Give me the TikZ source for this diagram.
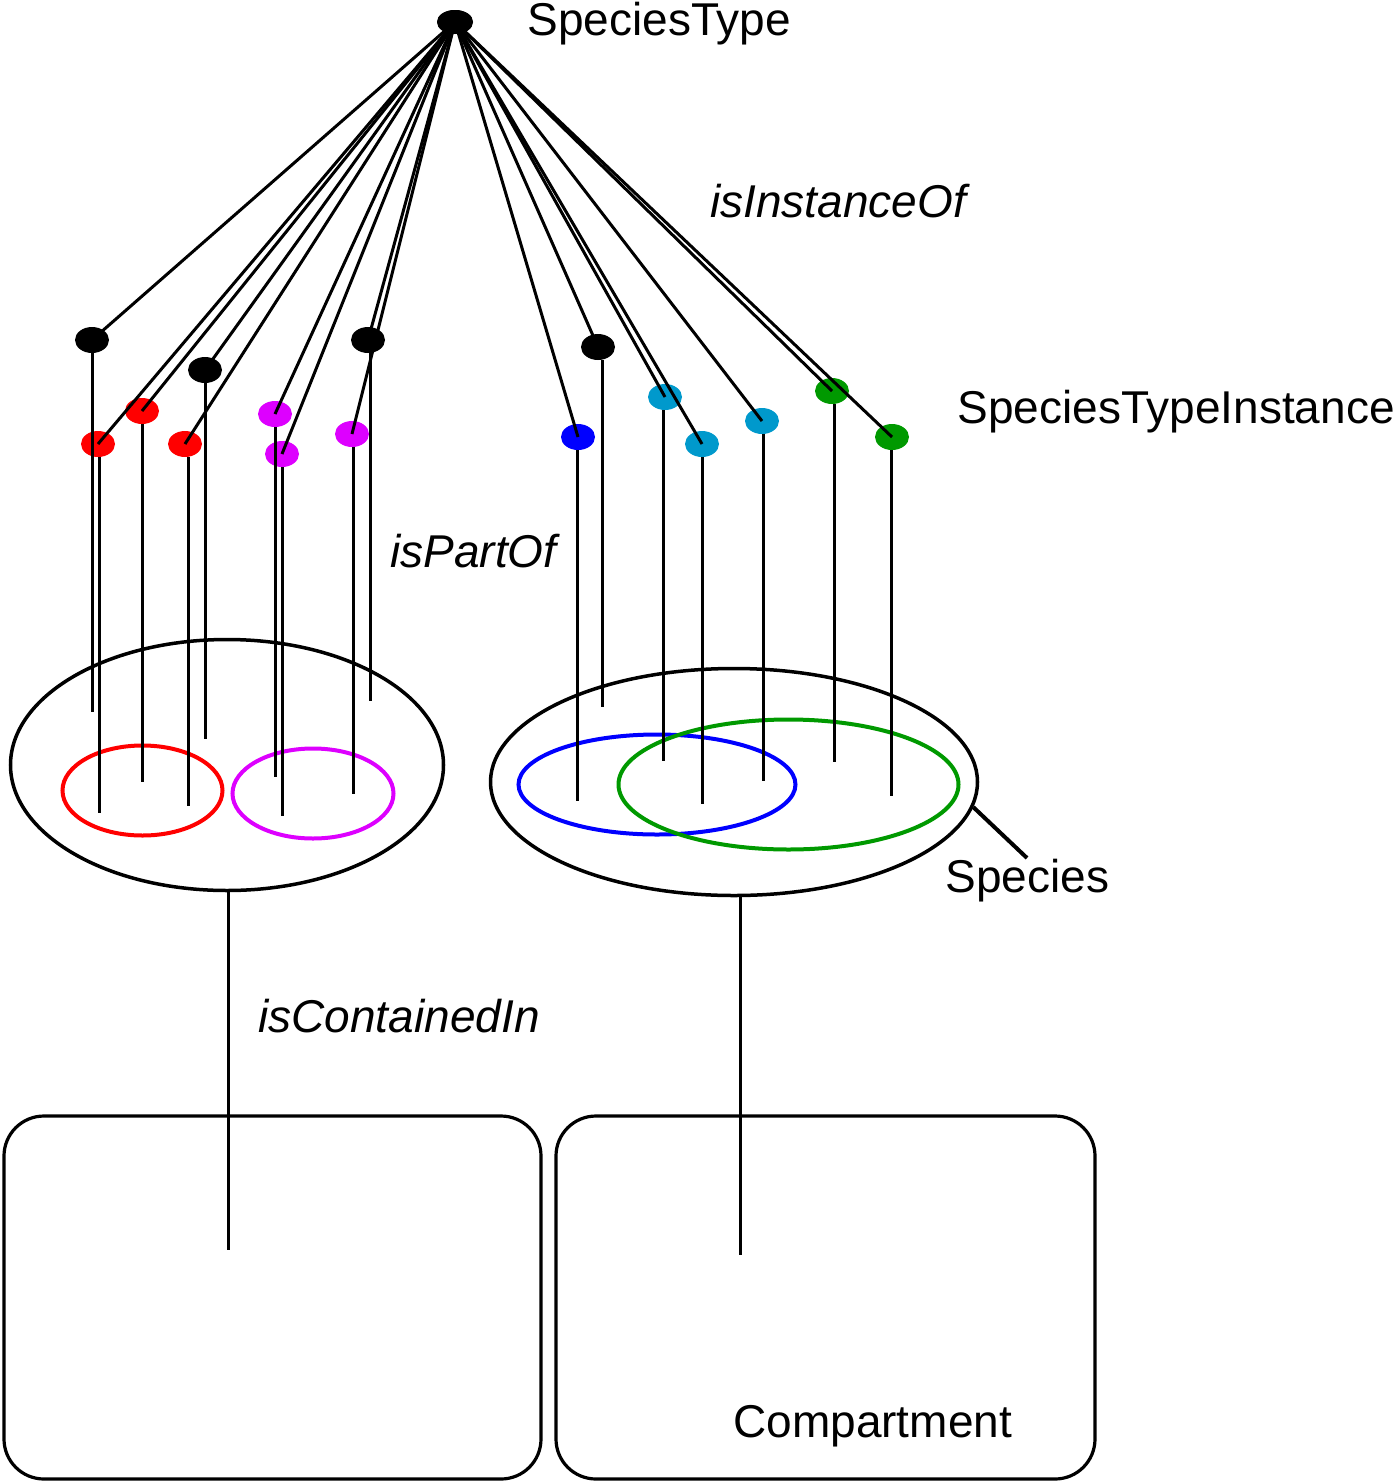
\documentclass[tikz,border=0pt]{standalone}
\usepackage{fontspec}
\setmainfont{Liberation Sans}
\usetikzlibrary{shapes.geometric}
\definecolor{cRed}{RGB}{255,0,0}
\definecolor{cMag}{RGB}{221,0,255}
\definecolor{cBlue}{RGB}{0,0,255}
\definecolor{cCyan}{RGB}{0,153,204}
\definecolor{cGreen}{RGB}{0,153,0}
\tikzset{
  lbl/.style={inner sep=0pt, anchor=base west, font=\fontsize{23}{28}\selectfont},
  ilbl/.style={lbl, font=\fontsize{23}{28}\selectfont\itshape},
  dotnode/.style={ellipse, minimum width=17pt, minimum height=13pt, inner sep=0pt, fill=#1},
  ring/.style={ellipse, draw=#1, line width=2pt, inner sep=0pt},
  bigring/.style={ellipse, draw=black, line width=1.75pt, inner sep=0pt},
  conn/.style={line width=1.5pt},
  vline/.style={line width=1.5pt},
  boxnode/.style={draw, line width=1.6pt, rounded corners=20pt, inner sep=0pt}
}
\begin{document}
\begin{tikzpicture}[x=0.5pt,y=-0.5pt]
\useasboundingbox (0,0) rectangle (1398,1483);

% labels
\node[lbl] (tST) at (527,35) {SpeciesType};
\node[ilbl] (tIO) at (710,217) {isInstanceOf};
\node[lbl] (tSTI) at (957,423) {SpeciesTypeInstance};
\node[ilbl] (tPO) at (390,567) {isPartOf};
\node[lbl] (tSp) at (945,892) {Species};
\node[ilbl] (tCI) at (258,1032) {isContainedIn};
\node[lbl] (tCo) at (733,1437) {Compartment};

% compartments
\node[boxnode, minimum width=268.5pt, minimum height=181.5pt] (compL) at (272.5,1297.5) {};
\node[boxnode, minimum width=269.5pt, minimum height=181.5pt] (compR) at (825.5,1297.5) {};

% species ellipses
\node[bigring, minimum width=216.5pt, minimum height=125.5pt] (lbig) at (227,765) {};
\node[bigring, minimum width=243.5pt, minimum height=113.5pt] (rbig) at (734,782) {};
\node[ring=cRed, minimum width=80pt, minimum height=45pt] (ered) at (142.5,790.5) {};
\node[ring=cMag, minimum width=80.5pt, minimum height=45pt] (emag) at (313,793.5) {};
\node[ring=cBlue, minimum width=138.5pt, minimum height=50pt] (eblue) at (657,784.5) {};
\node[ring=cGreen, minimum width=170pt, minimum height=65pt] (egreen) at (788.5,784.5) {};

% containment lines
\coordinate (lend) at (228,1250);
\coordinate (rend) at (740,1255);
\draw[vline] (lbig.south -| lend) -- (lend);
\draw[vline] (rbig.south -| rend) -- (rend);
\coordinate (spEnd) at (1027,858);
\draw[line width=2pt] (rbig.-6) -- (spEnd);

% dots
\node[dotnode=black, minimum width=18pt, minimum height=12pt] (top) at (455,22) {};
\node[dotnode=black] (kA) at (92,340) {};
\node[dotnode=black] (kB) at (205,370) {};
\node[dotnode=black] (kC) at (368,340) {};
\node[dotnode=black] (kD) at (598,347) {};
\node[dotnode=cRed] (r1) at (98,444) {};
\node[dotnode=cRed] (r2) at (142,411) {};
\node[dotnode=cRed] (r3) at (185,444) {};
\node[dotnode=cMag] (m1) at (275,414) {};
\node[dotnode=cMag] (m2) at (282,454) {};
\node[dotnode=cMag] (m3) at (352,434) {};
\node[dotnode=cBlue] (b1) at (578,437) {};
\node[dotnode=cCyan] (c1) at (665,397) {};
\node[dotnode=cCyan] (c2) at (702,444) {};
\node[dotnode=cCyan] (c3) at (762,421) {};
\node[dotnode=cGreen] (g1) at (832,391) {};
\node[dotnode=cGreen] (g2) at (892,437) {};

% vertical isPartOf lines
\foreach \d/\x/\y in {kA/92/712, r1/99/813, r2/142/782, r3/188/806, kB/205/739,
  m1/275/777, m2/282/816, m3/353/794, kC/370/701,
  b1/577/801, kD/602/707, c1/663/761, c2/702/804, c3/763/781, g1/834/762, g2/891/796}{
  \coordinate (\d-end) at (\x,\y);
  \draw[vline] (\d.south -| \d-end) -- (\d-end);
}

% isInstanceOf lines
\foreach \d in {kA, kB, kC, kD, r1, r2, r3, m1, m2, m3, b1, c1, c2, c3, g1, g2}{
  \draw[conn] (top.center) -- (\d.center);
}
\node[dotnode=black, minimum width=18pt, minimum height=12pt] at (top) {};
\end{tikzpicture}
\end{document}
